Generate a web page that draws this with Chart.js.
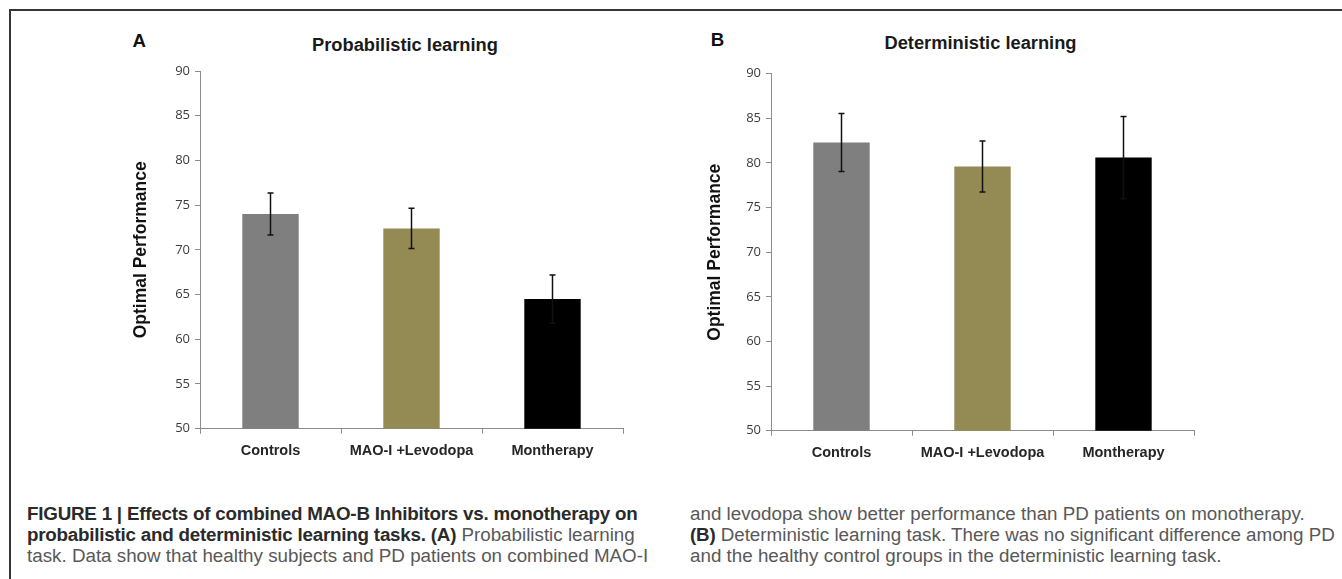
<!DOCTYPE html>
<html>
<head>
<meta charset="utf-8">
<script src="https://cdn.jsdelivr.net/npm/chart.js@4/dist/chart.umd.min.js"></script>
<style>
  html, body { margin: 0; padding: 0; background: #fff; }
  body { width: 1342px; height: 579px; position: relative; overflow: hidden; }
  .frame { position: absolute; left: 9px; top: 9px; right: -10px; bottom: -10px;
           border-top: 2px solid #363636; border-left: 2px solid #363636; }
  canvas { position: absolute; }
  .panel { position: absolute; font-family: 'Liberation Sans', Arial, sans-serif; font-weight: bold; font-size: 18.7px; color: #111; line-height: normal; }
  .ttl { position: absolute; font-family: 'Liberation Sans', Arial, sans-serif; font-weight: bold;
         font-size: 18.3px; color: #1a1a1a; transform: translate(-50%, -50%); white-space: nowrap; }
  .cap { position: absolute; font-family: 'Liberation Sans', Arial, sans-serif;
         font-size: 18.8px; line-height: 21.2px; color: #585858; white-space: nowrap; }
  .cap b { color: #2a2a2a; letter-spacing: -0.22px; }
</style>
</head>
<body>
<div class="frame"></div>
<div class="panel" style="left:132.5px; top:29.5px;">A</div>
<div class="panel" style="left:710.7px; top:28.5px;">B</div>
<div class="ttl" style="left:405px; top:45px;">Probabilistic learning</div>
<div class="ttl" style="left:980.5px; top:42.5px;">Deterministic learning</div>
<canvas id="chartA" width="560" height="470" style="left:100px; top:0px;"></canvas>
<canvas id="chartB" width="560" height="470" style="left:680px; top:2px;"></canvas>
<div class="cap" style="left:27px; top:502.5px;">
<b>FIGURE 1 | Effects of combined MAO-B Inhibitors vs. monotherapy on</b><br>
<b>probabilistic and deterministic learning tasks. (A)</b> Probabilistic learning<br>
task. Data show that healthy subjects and PD patients on combined MAO-I
</div>
<div class="cap" style="left:690px; top:502.5px;">
and levodopa show better performance than PD patients on monotherapy.<br>
<b>(B)</b> Deterministic learning task. There was no significant difference among PD<br>
and the healthy control groups in the deterministic learning task.
</div>
<script>
// категории и значения
const categories = ['Controls', 'MAO-I +Levodopa', 'Montherapy'];
const barColors = ['#7f7f7f', '#948a54', '#000000'];

const probMeans = [74.0, 72.4, 64.5];
const probErr = [2.35, 2.25, 2.7];

const detMeans = [82.3, 79.6, 80.6];
const detErr = [3.25, 2.85, 4.6];

const yMin = 50, yMax = 90, yStep = 5;

// усы погрешностей
const errorBars = {
    id: 'errorBars',
    afterDatasetsDraw(chart, args, opts) {
        const ctx = chart.ctx;
        const y = chart.scales.y;
        const meta = chart.getDatasetMeta(0);
        const means = chart.data.datasets[0].data;
        ctx.save();
        ctx.strokeStyle = '#111';
        ctx.lineWidth = 1.5;
        meta.data.forEach((bar, i) => {
            const top = y.getPixelForValue(means[i] + opts.errs[i]);
            const bot = y.getPixelForValue(means[i] - opts.errs[i]);
            ctx.beginPath();
            ctx.moveTo(bar.x, top); ctx.lineTo(bar.x, bot);
            ctx.moveTo(bar.x - 3, top); ctx.lineTo(bar.x + 3, top);
            ctx.moveTo(bar.x - 3, bot); ctx.lineTo(bar.x + 3, bot);
            ctx.stroke();
        });
        ctx.restore();
    }
};

function makeChart(id, means, errs, padding, titlePad) {
    return new Chart(document.getElementById(id), {
        type: 'bar',
        data: {
            labels: categories,
            datasets: [{
                data: means,
                backgroundColor: barColors,
                barPercentage: 0.4,
                categoryPercentage: 1.0
            }]
        },
        options: {
            responsive: false,
            animation: false,
            devicePixelRatio: 1,
            layout: { padding: padding },
            plugins: {
                legend: { display: false },
                tooltip: { enabled: false },
                errorBars: { errs: errs }
            },
            scales: {
                x: {
                    grid: { drawOnChartArea: false, tickLength: 5, color: '#8c8c8c' },
                    border: { color: '#8c8c8c' },
                    ticks: { padding: 9, color: '#262626', font: { family: 'Liberation Sans', size: 14.5, weight: 'bold' } },
                    afterFit: s => { s.height = 35; }
                },
                y: {
                    min: yMin, max: yMax,
                    grid: { drawOnChartArea: false, tickLength: 5, color: '#8c8c8c' },
                    border: { color: '#8c8c8c' },
                    ticks: { stepSize: yStep, padding: 5, color: '#3c3c3c', font: { family: 'Open Sans', size: 13 } },
                    title: {
                        display: true, text: 'Optimal Performance', color: '#111',
                        font: { family: 'Liberation Sans', size: 17.5, weight: 'bold' }, padding: titlePad
                    },
                    afterFit: s => { s.width = 70; }
                }
            }
        },
        plugins: [errorBars]
    });
}

makeChart('chartA', probMeans, probErr, { left: 30, right: 37, top: 71, bottom: 6.3 }, 1);
makeChart('chartB', detMeans, detErr, { left: 21, right: 46, top: 71.7, bottom: 6.3 }, 3.5);
</script>
</body>
</html>
